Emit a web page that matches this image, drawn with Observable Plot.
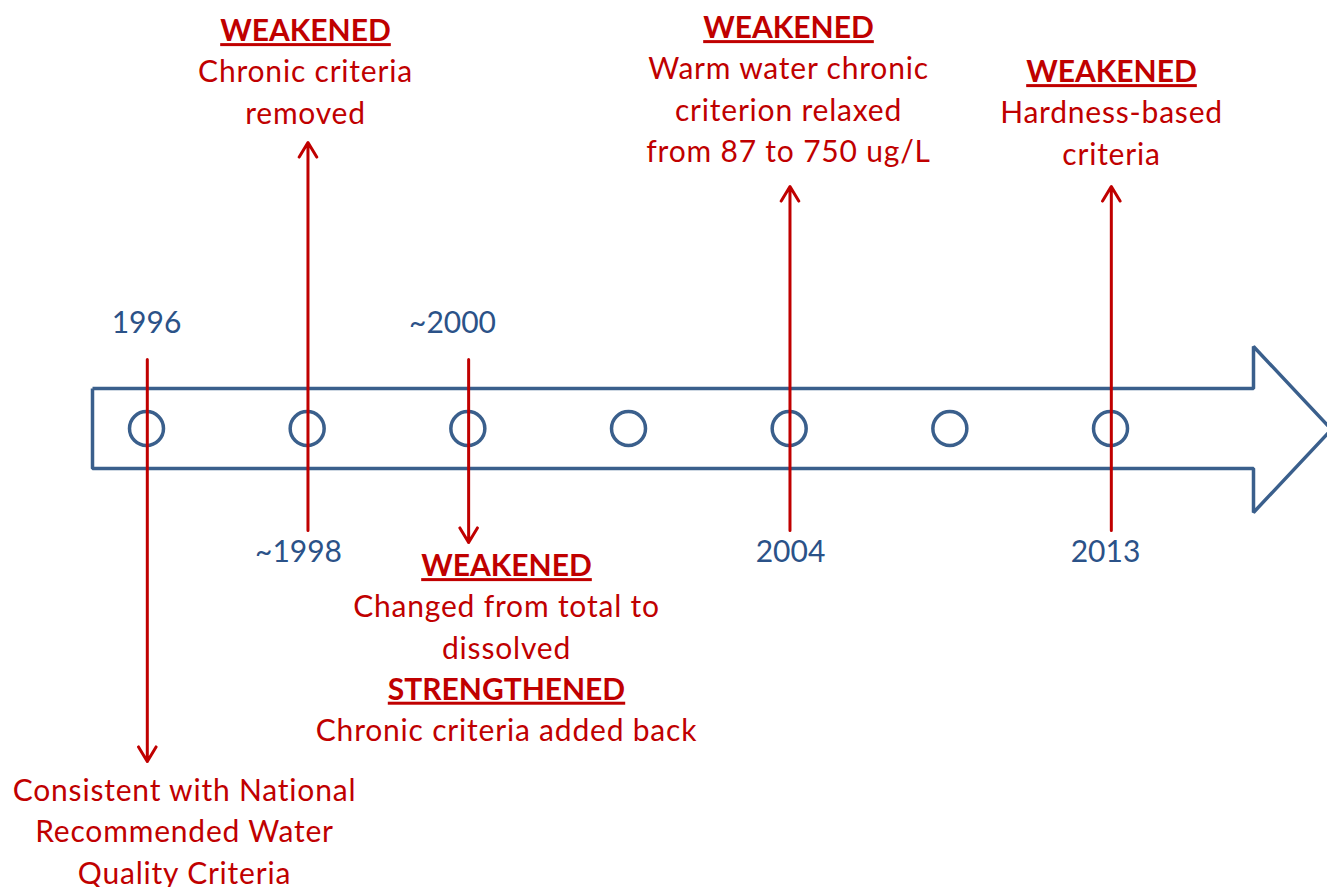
<!DOCTYPE html>
<html><head><meta charset="utf-8">
<script src="https://cdn.jsdelivr.net/npm/d3@7"></script>
<script src="https://cdn.jsdelivr.net/npm/@observablehq/plot@0.6"></script>
<style>html,body{margin:0;padding:0;background:#fff;overflow:hidden} svg{display:block}</style>
</head><body><div id="chart"></div>
<script>
// ---- data ----
const slots = [0, 1, 2, 3, 4, 5, 6];                       // circles on the timeline
const eventYears = ["1996", "~1998", "~2000", "2004", "2013"];
const eventSlots = [0, 1, 2, 4, 6];
const eventDirection = ["down", "up", "down", "up", "up"];
const eventNotes = [
  [["Consistent with National", false], ["Recommended Water", false], ["Quality Criteria", false]],
  [["WEAKENED", true], ["Chronic criteria", false], ["removed", false]],
  [["WEAKENED", true], ["Changed from total to", false], ["dissolved", false], ["STRENGTHENED", true], ["Chronic criteria added back", false]],
  [["WEAKENED", true], ["Warm water chronic", false], ["criterion relaxed", false], ["from 87 to 750 ug/L", false]],
  [["WEAKENED", true], ["Hardness-based", false], ["criteria", false]]
];

// ---- layout (pixel-space helpers converted through the scales) ----
const W = 1327, H = 887;
const slotPx = 160.67, slot0 = 146;
const px = v => (v - slot0) / slotPx;          // pixel x -> slot units
const axisY = 428;
const yearPos = [[146, 323], [298, 552], [452, 323], [790, 552], [1105, 552]];
const arrowEnds = [[359, 761], [530, 142], [359, 542], [530, 186], [530, 186]];
const notePos = [[184, 791], [305, 31], [506, 566], [788, 28], [1111, 72]];
const lineStep = 41.2;
const outline = [[92, 388], [1253, 388], [1253, 346], [1331, 429], [1253, 512], [1253, 468], [92, 468], [92, 388]];

const blue = "#3A5F8C", blueText = "#2B5288", red = "#C00000";
const font = "Lato, 'Open Sans', sans-serif";
const fs = 30;

const events = eventYears.map((year, i) => ({
  year, slot: eventSlots[i], dir: eventDirection[i],
  y1: arrowEnds[i][0], y2: arrowEnds[i][1],
  yx: px(yearPos[i][0]), yy: yearPos[i][1]
}));
const noteLines = [];
eventNotes.forEach((lines, i) => lines.forEach(([text, bold], j) =>
  noteLines.push({text, bold, x: px(notePos[i][0]), y: notePos[i][1] + j * lineStep})));

const chart = Plot.plot({
  width: W, height: H,
  margin: 0,
  x: {domain: [px(0), px(W)], axis: null},
  y: {domain: [0, H], range: [0, H], axis: null},
  style: {fontFamily: font, background: "#fff"},
  marks: [
    Plot.line(outline, {x: d => px(d[0]), y: d => d[1], stroke: blue, strokeWidth: 3.5, strokeLinejoin: "miter", strokeLinecap: "butt"}),
    Plot.dot(slots, {x: d => d, y: () => axisY, r: 17, stroke: blue, strokeWidth: 3.5, fill: "none"}),
    Plot.arrow(events, {x: d => d.slot + 0.005, y1: "y1", y2: "y2", stroke: red, strokeWidth: 3, headLength: 8.5, headAngle: 62}),
    Plot.text(events, {x: "yx", y: "yy", text: "year", fill: blueText, fontSize: fs, fontFamily: font}),
    Plot.text(noteLines.filter(d => !d.bold), {x: "x", y: "y", text: "text", fill: red, fontSize: fs, fontFamily: font}),
    Plot.text(noteLines.filter(d => d.bold), {x: "x", y: "y", text: "text", fill: red, fontSize: fs, fontWeight: "bold", fontFamily: font})
  ]
});
const boldWords = new Set(["WEAKENED", "STRENGTHENED"]);
const regularWords = new Set(noteLines.filter(d => !d.bold).map(d => d.text));
d3.select(chart).selectAll("text")
  .filter(function() { return boldWords.has(this.textContent); })
  .style("text-decoration", "underline");
d3.select(chart).selectAll("text")
  .filter(function() { return regularWords.has(this.textContent); })
  .style("letter-spacing", "0.8px");
document.getElementById("chart").appendChild(chart);
</script>
</body></html>
